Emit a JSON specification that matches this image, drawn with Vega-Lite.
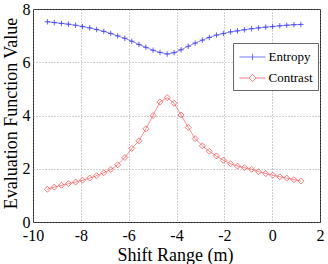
{
  "$schema": "https://vega.github.io/schema/vega-lite/v6.json",
  "width": 287,
  "height": 213,
  "autosize": {"type": "none"},
  "padding": {"left": 33, "top": 9, "right": 8, "bottom": 42},
  "background": "white",
  "config": {
    "view": {"stroke": "#222222", "strokeWidth": 1},
    "axis": {
      "labelFont": "Liberation Sans Narrow",
      "labelFontSize": 16,
      "labelColor": "#000000",
      "titleFont": "Liberation Serif",
      "titleFontSize": 18,
      "titleFontWeight": "normal",
      "titleColor": "#000000",
      "gridColor": "#8c8c8c",
      "gridDash": [1, 2],
      "gridWidth": 0.8,
      "domain": false,
      "ticks": false,
      "labelOverlap": false,
      "labelBound": false,
      "labelFlush": false
    }
  },
  "data": {
    "values": [
      {"x": -9.4, "series": "Entropy", "value": 7.52},
      {"x": -9.11, "series": "Entropy", "value": 7.49},
      {"x": -8.81, "series": "Entropy", "value": 7.46},
      {"x": -8.52, "series": "Entropy", "value": 7.43},
      {"x": -8.22, "series": "Entropy", "value": 7.39},
      {"x": -7.93, "series": "Entropy", "value": 7.34},
      {"x": -7.63, "series": "Entropy", "value": 7.29},
      {"x": -7.34, "series": "Entropy", "value": 7.23},
      {"x": -7.04, "series": "Entropy", "value": 7.16},
      {"x": -6.75, "series": "Entropy", "value": 7.08},
      {"x": -6.46, "series": "Entropy", "value": 6.99},
      {"x": -6.16, "series": "Entropy", "value": 6.9},
      {"x": -5.87, "series": "Entropy", "value": 6.79},
      {"x": -5.57, "series": "Entropy", "value": 6.67},
      {"x": -5.28, "series": "Entropy", "value": 6.56},
      {"x": -4.98, "series": "Entropy", "value": 6.45},
      {"x": -4.69, "series": "Entropy", "value": 6.37},
      {"x": -4.39, "series": "Entropy", "value": 6.31},
      {"x": -4.1, "series": "Entropy", "value": 6.36},
      {"x": -3.81, "series": "Entropy", "value": 6.47},
      {"x": -3.51, "series": "Entropy", "value": 6.6},
      {"x": -3.22, "series": "Entropy", "value": 6.72},
      {"x": -2.92, "series": "Entropy", "value": 6.83},
      {"x": -2.63, "series": "Entropy", "value": 6.93},
      {"x": -2.33, "series": "Entropy", "value": 7.02},
      {"x": -2.04, "series": "Entropy", "value": 7.08},
      {"x": -1.74, "series": "Entropy", "value": 7.14},
      {"x": -1.45, "series": "Entropy", "value": 7.18},
      {"x": -1.16, "series": "Entropy", "value": 7.22},
      {"x": -0.86, "series": "Entropy", "value": 7.26},
      {"x": -0.57, "series": "Entropy", "value": 7.29},
      {"x": -0.27, "series": "Entropy", "value": 7.32},
      {"x": 0.02, "series": "Entropy", "value": 7.34},
      {"x": 0.32, "series": "Entropy", "value": 7.37},
      {"x": 0.61, "series": "Entropy", "value": 7.39},
      {"x": 0.91, "series": "Entropy", "value": 7.41},
      {"x": 1.2, "series": "Entropy", "value": 7.42},
      {"x": -9.4, "series": "Contrast", "value": 1.23},
      {"x": -9.11, "series": "Contrast", "value": 1.31},
      {"x": -8.81, "series": "Contrast", "value": 1.38},
      {"x": -8.52, "series": "Contrast", "value": 1.44},
      {"x": -8.22, "series": "Contrast", "value": 1.5},
      {"x": -7.93, "series": "Contrast", "value": 1.57},
      {"x": -7.63, "series": "Contrast", "value": 1.65},
      {"x": -7.34, "series": "Contrast", "value": 1.74},
      {"x": -7.04, "series": "Contrast", "value": 1.85},
      {"x": -6.75, "series": "Contrast", "value": 1.97},
      {"x": -6.46, "series": "Contrast", "value": 2.15},
      {"x": -6.16, "series": "Contrast", "value": 2.42},
      {"x": -5.87, "series": "Contrast", "value": 2.76},
      {"x": -5.57, "series": "Contrast", "value": 3.05},
      {"x": -5.28, "series": "Contrast", "value": 3.5},
      {"x": -4.98, "series": "Contrast", "value": 4.0},
      {"x": -4.69, "series": "Contrast", "value": 4.51},
      {"x": -4.39, "series": "Contrast", "value": 4.67},
      {"x": -4.1, "series": "Contrast", "value": 4.46},
      {"x": -3.81, "series": "Contrast", "value": 4.02},
      {"x": -3.51, "series": "Contrast", "value": 3.55},
      {"x": -3.22, "series": "Contrast", "value": 3.13},
      {"x": -2.92, "series": "Contrast", "value": 2.86},
      {"x": -2.63, "series": "Contrast", "value": 2.66},
      {"x": -2.33, "series": "Contrast", "value": 2.48},
      {"x": -2.04, "series": "Contrast", "value": 2.32},
      {"x": -1.74, "series": "Contrast", "value": 2.19},
      {"x": -1.45, "series": "Contrast", "value": 2.1},
      {"x": -1.16, "series": "Contrast", "value": 2.04},
      {"x": -0.86, "series": "Contrast", "value": 1.98},
      {"x": -0.57, "series": "Contrast", "value": 1.89},
      {"x": -0.27, "series": "Contrast", "value": 1.82},
      {"x": 0.02, "series": "Contrast", "value": 1.76},
      {"x": 0.32, "series": "Contrast", "value": 1.7},
      {"x": 0.61, "series": "Contrast", "value": 1.65},
      {"x": 0.91, "series": "Contrast", "value": 1.59},
      {"x": 1.2, "series": "Contrast", "value": 1.54}
    ]
  },
  "encoding": {
    "x": {
      "field": "x",
      "type": "quantitative",
      "scale": {"domain": [-10, 2], "nice": false, "zero": false},
      "axis": {
        "title": "Shift Range (m)",
        "values": [-10, -8, -6, -4, -2, 0, 2],
        "labelExpr": "'' + datum.value",
        "labelPadding": 5,
        "titleX": 142,
        "titleY": 38,
        "titleBaseline": "alphabetic",
        "titleAnchor": "middle"
      }
    },
    "y": {
      "field": "value",
      "type": "quantitative",
      "scale": {"domain": [0, 8], "nice": false},
      "axis": {
        "title": "Evaluation Function Value",
        "values": [0, 2, 4, 6, 8],
        "labelExpr": "'' + datum.value",
        "labelPadding": 3,
        "titleX": -16.5,
        "titleY": 104,
        "titleAngle": -90,
        "titleAlign": "center",
        "titleBaseline": "alphabetic"
      }
    },
    "color": {
      "field": "series",
      "type": "nominal",
      "scale": {"domain": ["Entropy", "Contrast"], "range": ["#3a3aff", "#ff4040"]},
      "legend": {
        "title": null,
        "orient": "none",
        "legendX": 200,
        "legendY": 34,
        "padding": 4.5,
        "strokeColor": "#666666",
        "fillColor": "white",
        "symbolSize": 324,
        "symbolStrokeWidth": 0.7,
        "labelFont": "Liberation Sans Narrow",
        "labelFontSize": 13,
        "labelColor": "#000000",
        "labelOffset": 12,
        "rowPadding": 4,
        "encode": {
          "symbols": {
            "update": {
              "shape": {"signal": "datum.value === 'Entropy' ? 'M-0.84,0H2.06M0.61,-0.35V0.35' : 'M-0.84,0H0.21M1.01,0H2.06M0.21,0L0.61,-0.4L1.01,0L0.61,0.4Z'"},
              "fill": {"value": "transparent"}
            }
          }
        }
      }
    }
  },
  "layer": [
    {
      "mark": {"type": "line", "strokeWidth": 0.6}
    },
    {
      "transform": [{"filter": "datum.series === 'Entropy'"}],
      "mark": {"type": "point", "shape": "M-1,0H1M0,-1V1", "size": 30, "filled": false, "strokeWidth": 0.8, "opacity": 1}
    },
    {
      "transform": [{"filter": "datum.series === 'Contrast'"}],
      "mark": {"type": "point", "shape": "diamond", "size": 36, "filled": false, "strokeWidth": 0.7, "opacity": 1}
    }
  ]
}
